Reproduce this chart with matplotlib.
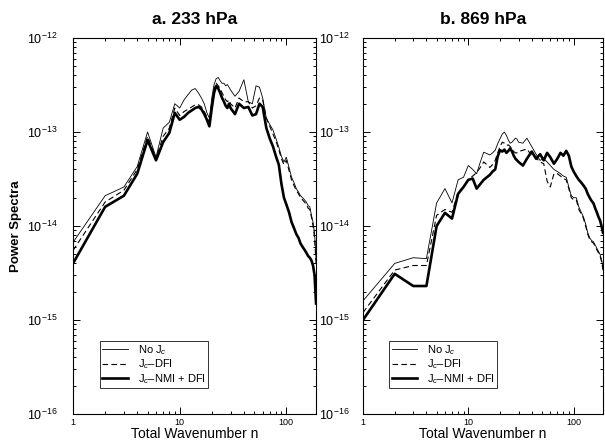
import matplotlib
matplotlib.use("Agg")
import matplotlib.pyplot as plt
from matplotlib.ticker import LogLocator, FixedLocator, FixedFormatter, NullFormatter

plt.rcParams['font.family'] = ['Liberation Sans', 'DejaVu Sans']
plt.rcParams['mathtext.fontset'] = 'custom'
plt.rcParams['mathtext.rm'] = 'Liberation Sans'
plt.rcParams['mathtext.it'] = 'Liberation Sans:italic'
plt.rcParams['mathtext.bf'] = 'Liberation Sans:bold'

# ---------------- data ----------------
n = list(range(1, 31)) + [33, 36, 40, 44, 48, 52, 56, 60, 65, 70, 75, 80, 85, 90, 95, 100,
                          106, 112, 118, 124, 130, 136, 142, 148, 154, 160, 166, 172, 178, 184, 190]

titles = ["a. 233 hPa", "b. 869 hPa"]
labels = ["No J$_c$", "J$_c$\u2013DFI", "J$_c$\u2013NMI + DFI"]

a_nojc = [6.7e-15, 2.1e-14, 2.6e-14, 4.3e-14, 1.0e-13, 5.4e-14, 1.1e-13, 1.27e-13, 2.0e-13, 1.8e-13,
          2.2e-13, 2.5e-13, 2.8e-13, 2.9e-13, 2.6e-13, 2.3e-13, 2.0e-13, 1.6e-13, 1.4e-13, 2.3e-13,
          3.2e-13, 3.7e-13, 3.8e-13, 3.5e-13, 3.3e-13, 3.3e-13, 3.1e-13, 3.2e-13, 3.0e-13, 2.8e-13,
          2.4e-13, 2.7e-13, 3.6e-13, 2.1e-13, 2.0e-13, 3.1e-13, 3.0e-13, 2.3e-13, 1.4e-13, 1.2e-13,
          1.05e-13, 8.5e-14, 6.9e-14, 5.5e-14, 4.8e-14, 5.4e-14, 4.2e-14, 3.3e-14, 2.9e-14, 2.5e-14,
          2.3e-14, 2.1e-14, 2.0e-14, 1.9e-14, 1.8e-14, 1.65e-14, 1.6e-14, 1.3e-14, 1.1e-14, 8.4e-15, 4.4e-15]
a_dfi = [5.5e-15, 1.8e-14, 2.4e-14, 4.0e-14, 9.0e-14, 5.2e-14, 9.0e-14, 1.1e-13, 1.8e-13, 1.5e-13,
         1.65e-13, 1.75e-13, 1.85e-13, 1.95e-13, 1.95e-13, 1.85e-13, 1.65e-13, 1.45e-13, 1.25e-13, 2.0e-13,
         2.9e-13, 3.3e-13, 3.1e-13, 2.9e-13, 2.6e-13, 2.4e-13, 2.2e-13, 2.1e-13, 2.2e-13, 2.0e-13,
         1.8e-13, 2.3e-13, 2.1e-13, 2.1e-13, 1.8e-13, 1.9e-13, 2.3e-13, 2.2e-13, 1.4e-13, 1.15e-13,
         9.5e-14, 8.0e-14, 6.5e-14, 5.2e-14, 4.5e-14, 5.0e-14, 3.9e-14, 3.1e-14, 2.7e-14, 2.4e-14,
         2.2e-14, 2.0e-14, 1.9e-14, 1.8e-14, 1.7e-14, 1.55e-14, 1.5e-14, 1.25e-14, 1.0e-14, 7.5e-15, 4.0e-15]
a_nmi = [4.0e-15, 1.6e-14, 2.1e-14, 3.6e-14, 8.2e-14, 5.0e-14, 7.8e-14, 9.8e-14, 1.6e-13, 1.35e-13,
         1.45e-13, 1.6e-13, 1.7e-13, 1.8e-13, 1.85e-13, 1.75e-13, 1.55e-13, 1.35e-13, 1.15e-13, 1.8e-13,
         2.6e-13, 3.1e-13, 2.9e-13, 2.6e-13, 2.3e-13, 2.1e-13, 1.9e-13, 1.8e-13, 2.0e-13, 1.8e-13,
         1.55e-13, 2.0e-13, 1.8e-13, 1.85e-13, 1.5e-13, 1.55e-13, 2.0e-13, 1.85e-13, 1.1e-13, 8.5e-14,
         7.0e-14, 5.5e-14, 4.5e-14, 2.8e-14, 2.0e-14, 1.7e-14, 1.4e-14, 1.1e-14, 9.5e-15, 8.2e-15,
         7.5e-15, 6.5e-15, 6.0e-15, 5.6e-15, 5.2e-15, 4.8e-15, 4.6e-15, 4.3e-15, 3.8e-15, 3.0e-15, 1.5e-15]

b_nojc = [1.6e-15, 4.0e-15, 4.6e-15, 4.5e-15, 1.76e-14, 2.5e-14, 1.76e-14, 3.1e-14, 3.3e-14, 4.4e-14,
          4.0e-14, 3.6e-14, 4.8e-14, 6.1e-14, 5.9e-14, 5.7e-14, 6.0e-14, 6.4e-14, 7.5e-14, 8.5e-14,
          9.5e-14, 1.0e-13, 9.2e-14, 8.2e-14, 7.6e-14, 7.8e-14, 8.2e-14, 8.6e-14, 8.4e-14, 7.8e-14,
          7.6e-14, 8.6e-14, 7.0e-14, 5.8e-14, 5.0e-14, 5.2e-14, 4.8e-14, 4.4e-14, 4.0e-14, 3.8e-14,
          3.6e-14, 3.4e-14, 3.3e-14, 2.6e-14, 2.1e-14, 2.0e-14, 2.0e-14, 1.6e-14, 1.4e-14, 1.25e-14,
          1.05e-14, 8.5e-15, 7.5e-15, 7.0e-15, 6.8e-15, 6.3e-15, 5.8e-15, 5.4e-15, 5.0e-15, 4.4e-15, 3.6e-15]
b_dfi = [1.2e-15, 3.4e-15, 3.8e-15, 3.8e-15, 1.3e-14, 1.5e-14, 1.4e-14, 2.3e-14, 2.6e-14, 3.1e-14,
         3.4e-14, 3.7e-14, 4.2e-14, 4.8e-14, 4.5e-14, 4.2e-14, 4.5e-14, 5.0e-14, 6.0e-14, 7.0e-14,
         7.8e-14, 7.6e-14, 7.2e-14, 7.3e-14, 7.0e-14, 6.6e-14, 6.2e-14, 6.0e-14, 6.0e-14, 6.2e-14,
         6.4e-14, 6.6e-14, 5.6e-14, 5.3e-14, 4.8e-14, 4.6e-14, 3.0e-14, 2.6e-14, 3.6e-14, 3.6e-14,
         3.4e-14, 3.2e-14, 3.1e-14, 2.5e-14, 2.0e-14, 1.9e-14, 1.9e-14, 1.5e-14, 1.35e-14, 1.2e-14,
         1.0e-14, 8.2e-15, 7.2e-15, 6.8e-15, 6.6e-15, 6.1e-15, 5.6e-15, 5.2e-15, 4.8e-15, 4.2e-15, 3.4e-15]
b_nmi = [1.0e-15, 3.1e-15, 2.3e-15, 2.3e-15, 1.0e-14, 1.38e-14, 1.2e-14, 2.2e-14, 2.6e-14, 3.1e-14,
         3.2e-14, 2.5e-14, 2.8e-14, 3.1e-14, 3.3e-14, 3.5e-14, 3.8e-14, 4.0e-14, 5.5e-14, 6.4e-14,
         6.2e-14, 6.5e-14, 6.0e-14, 6.3e-14, 6.7e-14, 6.2e-14, 5.6e-14, 5.2e-14, 5.0e-14, 4.8e-14,
         4.4e-14, 5.2e-14, 6.2e-14, 5.2e-14, 5.8e-14, 5.0e-14, 6.0e-14, 5.4e-14, 4.6e-14, 5.2e-14,
         6.0e-14, 5.6e-14, 6.3e-14, 5.6e-14, 4.3e-14, 3.8e-14, 3.4e-14, 3.1e-14, 2.9e-14, 2.7e-14,
         2.5e-14, 2.2e-14, 2.0e-14, 1.85e-14, 1.75e-14, 1.55e-14, 1.4e-14, 1.25e-14, 1.15e-14, 1.0e-14, 8.5e-15]

x_ticks = [1, 10, 100]
x_ticklabels = ["1", "10", "100"]
y_ticks = [1e-16, 1e-15, 1e-14, 1e-13, 1e-12]
y_ticklabels = [r"$10^{-16}$", r"$10^{-15}$", r"$10^{-14}$", r"$10^{-13}$", r"$10^{-12}$"]

# ---------------- figure ----------------
fig = plt.figure(figsize=(6.05, 4.42), dpi=100)
ax_a = fig.add_axes([0.1207, 0.0633, 0.4017, 0.8507])
ax_b = fig.add_axes([0.6000, 0.0633, 0.3967, 0.8507])

panels = [(ax_a, a_nojc, a_dfi, a_nmi), (ax_b, b_nojc, b_dfi, b_nmi)]
for i, (ax, s1, s2, s3) in enumerate(panels):
    ax.plot(n, s1, color='black', lw=0.6, ls='-', label=labels[0])
    ax.plot(n, s2, color='black', lw=0.8, ls=(0, (5, 3)), label=labels[1])
    ax.plot(n, s3, color='black', lw=1.9, ls='-', label=labels[2])
    ax.set_xscale('log')
    ax.set_yscale('log')
    ax.set_xlim(1, 190)
    ax.set_ylim(1e-16, 1e-12)
    ax.xaxis.set_major_locator(FixedLocator(x_ticks))
    ax.xaxis.set_major_formatter(FixedFormatter(x_ticklabels))
    ax.xaxis.set_minor_locator(LogLocator(base=10, subs=range(2, 10)))
    ax.xaxis.set_minor_formatter(NullFormatter())
    ax.yaxis.set_major_locator(FixedLocator(y_ticks))
    ax.yaxis.set_major_formatter(FixedFormatter(y_ticklabels))
    ax.yaxis.set_minor_locator(LogLocator(base=10, subs=range(2, 10)))
    ax.yaxis.set_minor_formatter(NullFormatter())
    ax.tick_params(which='both', direction='in', top=True, right=True, width=0.7)
    ax.tick_params(which='major', length=5)
    ax.tick_params(which='minor', length=2.5)
    ax.tick_params(axis='x', labelsize=6.5, pad=3)
    ax.tick_params(axis='y', labelsize=9, pad=11 if i == 0 else 9.5)
    for sp in ax.spines.values():
        sp.set_linewidth(0.8)
    ax.set_title(titles[i], fontsize=12.5, fontweight='bold', pad=10)
    ax.set_xlabel("Total Wavenumber n", fontsize=10, labelpad=0)
    leg = ax.legend(loc='lower left', bbox_to_anchor=(0.11, 0.069), borderaxespad=0,
                    fontsize=8, frameon=True, fancybox=False, edgecolor='black',
                    handlelength=2.3, handletextpad=0.9, labelspacing=0.05, borderpad=0.2)
    leg.get_frame().set_linewidth(0.7)

ax_a.set_ylabel("Power Spectra", fontsize=9.5, fontweight='bold', labelpad=4)

fig.savefig("out.png", dpi=100)
